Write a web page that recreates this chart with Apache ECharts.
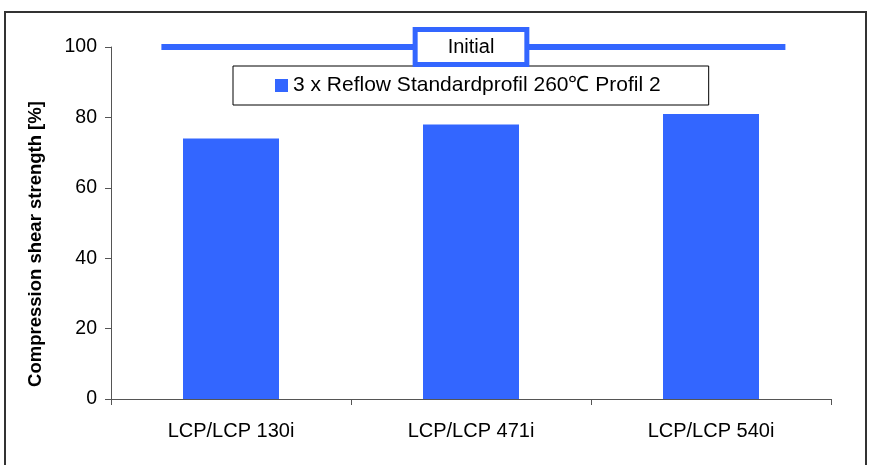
<!DOCTYPE html>
<html>
<head>
<meta charset="utf-8">
<script src="https://cdn.jsdelivr.net/npm/echarts@6/dist/echarts.min.js"></script>
<style>
  html, body { margin: 0; padding: 0; background: #fff; }
  #chart { width: 872px; height: 465px; }
</style>
</head>
<body>
<div id="chart"></div>
<script>
// Samples and their remaining shear strength after reflow
const categories = ['LCP/LCP 130i', 'LCP/LCP 471i', 'LCP/LCP 540i'];
const reflowValues = [74, 78, 81];
const seriesName = '3 x Reflow Standardprofil 260\u2103 Profil 2';

// Reference level (initial strength) and its horizontal span in category units
const initialLevel = 100;
const initialSpan = [-0.29, 1.0, 2.31];
const initialLabel = 'Initial';

// Value axis ticks
const yTicks = { min: 0, max: 100, interval: 20 };
const yTitle = 'Compression shear strength [%]';

const blue = '#3366FF';
const font = 'Liberation Sans, Arial, sans-serif';

const chart = echarts.init(document.getElementById('chart'), null, { renderer: 'canvas' });

chart.setOption({
  animation: false,
  backgroundColor: '#fff',
  grid: { left: 111, right: 41, top: 47, bottom: 66 },
  graphic: [
    {
      type: 'rect',
      shape: { x: 5, y: 12, width: 861, height: 470 },
      style: { fill: 'none', stroke: '#333', lineWidth: 2 },
      silent: true
    },
    {
      type: 'text',
      x: 36, y: 244,
      rotation: Math.PI / 2,
      style: {
        text: yTitle,
        font: 'bold 18.5px ' + font,
        fill: '#000',
        textAlign: 'center',
        textVerticalAlign: 'middle'
      }
    }
  ],
  legend: {
    data: [seriesName],
    left: 233, top: 66,
    padding: [9, 48, 9, 42],
    borderColor: '#000',
    borderWidth: 1,
    itemWidth: 13, itemHeight: 13,
    itemStyle: { borderRadius: 0 },
    icon: 'rect',
    textStyle: { fontFamily: font, fontSize: 21, color: '#000' }
  },
  xAxis: [
    {
      type: 'category',
      data: categories,
      axisLine: { onZero: false, lineStyle: { color: '#555' } },
      axisTick: { show: true, alignWithLabel: false, length: 6, lineStyle: { color: '#555' } },
      axisLabel: { color: '#000', fontFamily: font, fontSize: 20, margin: 22 }
    },
    {
      type: 'value',
      min: -0.5, max: 2.5,
      show: false
    }
  ],
  yAxis: {
    type: 'value',
    min: yTicks.min, max: yTicks.max, interval: yTicks.interval,
    axisLine: { show: true, onZero: false, lineStyle: { color: '#555' } },
    axisTick: { show: true, length: 6, lineStyle: { color: '#555' } },
    splitLine: { show: false },
    axisLabel: { color: '#000', fontFamily: font, fontSize: 19.5, margin: 14 }
  },
  series: [
    {
      name: seriesName,
      type: 'bar',
      xAxisIndex: 0,
      data: reflowValues,
      barWidth: '40%',
      itemStyle: { color: blue }
    },
    {
      name: initialLabel,
      type: 'line',
      xAxisIndex: 1,
      data: initialSpan.map((x, i) => ({
        value: [x, initialLevel],
        label: i === 1 ? {
          show: true,
          position: 'inside',
          formatter: initialLabel,
          color: '#000',
          fontFamily: font,
          fontSize: 20,
          backgroundColor: '#fff',
          borderColor: blue,
          borderWidth: 5,
          padding: [5, 30, 5, 30]
        } : { show: false }
      })),
      symbol: 'circle',
      symbolSize: 0,
      showSymbol: true,
      lineStyle: { color: blue, width: 6 },
      z: 5
    }
  ]
});
</script>
</body>
</html>
